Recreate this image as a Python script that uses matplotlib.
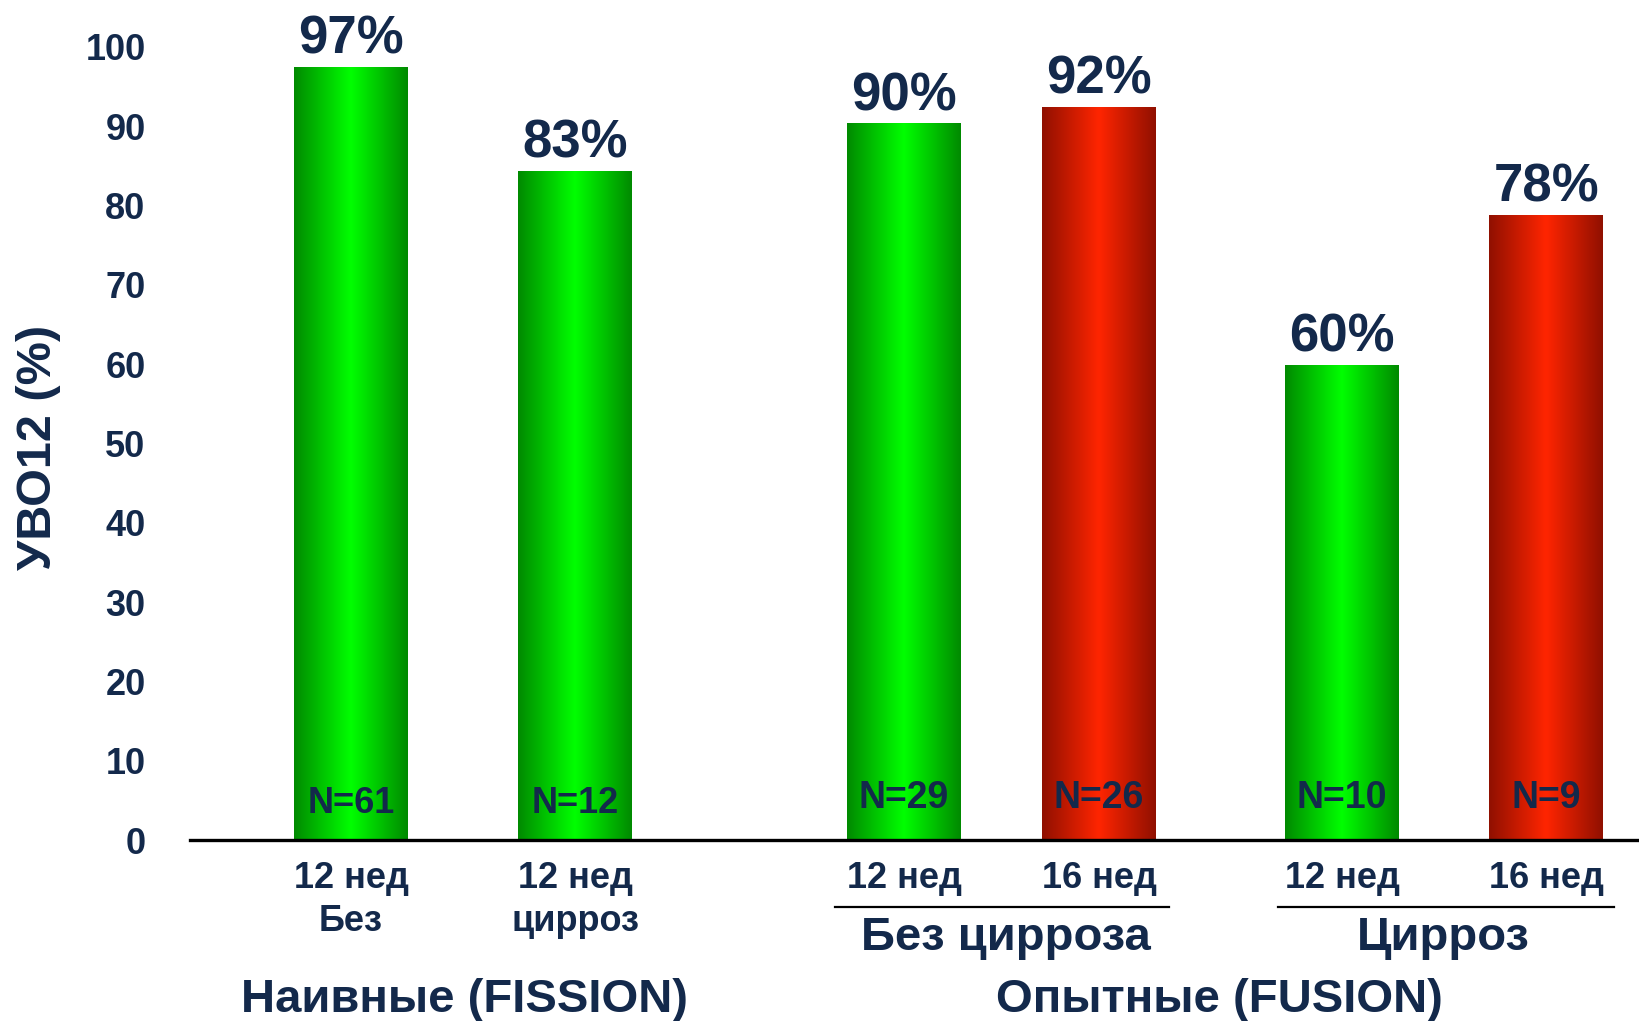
import numpy as np
import matplotlib
matplotlib.use("Agg")
import matplotlib.pyplot as plt
from matplotlib.colors import LinearSegmentedColormap

# data
svr = [97.4, 84.3, 90.3, 92.4, 59.8, 78.8]
svr_text = ["97%", "83%", "90%", "92%", "60%", "78%"]
n_text = ["N=61", "N=12", "N=29", "N=26", "N=10", "N=9"]
weeks = ["12 нед\nБез", "12 нед\nцирроз", "12 нед", "16 нед", "12 нед", "16 нед"]
kind = ["g", "g", "g", "r", "g", "r"]
sub_groups = ["Без цирроза", "Цирроз"]
groups = ["Наивные (FISSION)", "Опытные (FUSION)"]

# layout (pixel-like x units)
xpos = [351, 575.5, 904, 1099, 1342, 1546.5]
bar_w = 114
navy = "#13294b"
W, H = 1640, 1021
y0_px, px_per = 840, 7.93

def py(p):
    # figure pixel row -> data y
    return (y0_px - p) / px_per

arial = ["Liberation Sans", "DejaVu Sans"]

fig = plt.figure(figsize=(16.4, 10.21), dpi=100)
ax = fig.add_axes([190 / W, (H - y0_px) / H, 1450 / W, y0_px / H])

cmaps = {
    "g": LinearSegmentedColormap.from_list("g", ["#008a00", "#00ff00", "#008a00"]),
    "r": LinearSegmentedColormap.from_list("r", ["#901000", "#ff2500", "#901000"]),
}
grad = np.linspace(0, 1, 256).reshape(1, -1)

bars = ax.bar(xpos, svr, width=bar_w, color="none", edgecolor="none")
for b, k in zip(bars, kind):
    x, w, h = b.get_x(), b.get_width(), b.get_height()
    ax.imshow(grad, cmap=cmaps[k], extent=[x, x + w, 0, h], aspect="auto", zorder=2)

ax.set_xlim(190, 1640)
ax.set_ylim(0, y0_px / px_per)

for i, b in enumerate(bars):
    xc = b.get_x() + b.get_width() / 2
    ax.annotate(svr_text[i], (xc, b.get_height()),
                xytext=(0, 10), textcoords="offset points", ha="center", va="baseline",
                fontsize=38, fontweight="bold", color=navy, family=arial)
    ybase = 813 if i < 2 else 808
    fs = 26 if i < 2 else 27
    ax.text(xc, py(ybase), n_text[i], ha="center", va="baseline",
            fontsize=fs, fontweight="bold", color=navy, family=arial, zorder=3)
    for k, line in enumerate(weeks[i].split("\n")):
        ax.text(xc, py(888 + 43 * k), line, ha="center", va="baseline",
                fontsize=26, fontweight="bold", color=navy, family=arial,
                clip_on=False)

# sub-group underlines and labels
for j in range(2):
    xl = [835, 1278][j]
    xr = [1169, 1614][j]
    ax.plot([xl, xr], [py(907), py(907)], color="black", lw=1.6, clip_on=False)
    ax.text((xl + xr) / 2 + [4, -3][j], py(950), sub_groups[j], ha="center", va="baseline",
            fontsize=34, fontweight="bold", color=navy, family=arial, clip_on=False)

ax.text(465, py(1012), groups[0], ha="center", va="baseline", fontsize=34,
        fontweight="bold", color=navy, family=arial, clip_on=False)
ax.text(1219, py(1012), groups[1], ha="center", va="baseline", fontsize=34,
        fontweight="bold", color=navy, family=arial, clip_on=False)

ax.set_yticks(range(0, 101, 10))
ax.set_yticklabels([str(v) for v in range(0, 101, 10)], fontsize=26,
                   fontweight="bold", color=navy, family=arial)
ax.tick_params(axis="y", length=0, pad=32)
ax.set_xticks([])
for s in ["top", "right", "left"]:
    ax.spines[s].set_visible(False)
ax.spines["bottom"].set_linewidth(2.4)
ax.spines["bottom"].set_color("black")

fig.text(39 / W, 1 - 447 / H, "УВО12 (%)", rotation=90, ha="center", va="center",
         fontsize=35, fontweight="bold", color=navy, family=arial)

fig.savefig("out.png", dpi=100)
